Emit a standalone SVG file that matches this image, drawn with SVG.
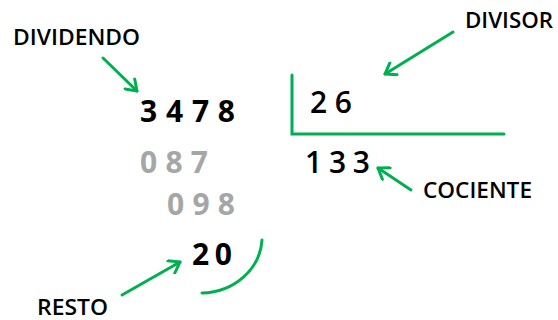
<svg xmlns="http://www.w3.org/2000/svg" width="558" height="320" viewBox="0 0 558 320">
<style>
.lbl{font-family:"Open Sans","Liberation Sans",sans-serif;font-size:21px;font-weight:600;fill:#000}
.num{font-family:"Open Sans","Liberation Sans",sans-serif;font-size:30px;font-weight:bold;fill:#000}
.num2{font-family:"Open Sans","Liberation Sans",sans-serif;font-size:30px;font-weight:600;fill:#000}
.gray{fill:#a6a6a6}
.g{stroke:#00b050;stroke-width:3;fill:none;stroke-linecap:round}
</style>
<defs>
<marker id="ah" markerUnits="userSpaceOnUse" markerWidth="16" markerHeight="16" refX="13" refY="8" orient="auto" viewBox="0 0 16 16">
<path d="M3,1 L13,8 L3,15" fill="none" stroke="#00b050" stroke-width="3" stroke-linecap="round" stroke-linejoin="round"/>
</marker>
</defs>
<rect width="558" height="320" fill="#fff"/>
<g id="dividendo-label"><text class="lbl" x="13" y="45" textLength="127" lengthAdjust="spacingAndGlyphs">DIVIDENDO</text></g>
<g id="divisor-label"><text class="lbl" x="465" y="28" textLength="88" lengthAdjust="spacingAndGlyphs">DIVISOR</text></g>
<g id="cociente-label"><text class="lbl" x="423" y="198" textLength="109" lengthAdjust="spacingAndGlyphs">COCIENTE</text></g>
<g id="resto-label"><text class="lbl" x="37" y="315" font-size="20" textLength="71" lengthAdjust="spacingAndGlyphs">RESTO</text></g>
<g id="dividendo"><text class="num" x="140" y="122" textLength="95" lengthAdjust="spacing">3 4 7 8</text></g>
<g id="step1"><text class="num gray" x="140" y="173" textLength="68" lengthAdjust="spacing">0 8 7</text></g>
<g id="step2"><text class="num gray" x="167" y="215" textLength="68" lengthAdjust="spacing">0 9 8</text></g>
<g id="resto"><text class="num" x="192" y="265" textLength="40" lengthAdjust="spacing">2 0</text></g>
<g id="divisor"><text class="num2" x="310" y="113" textLength="42" lengthAdjust="spacing">2 6</text></g>
<g id="cociente"><text class="num2" x="305" y="173" textLength="65" lengthAdjust="spacing">1 3 3</text></g>
<g id="bracket"><path class="g" d="M292,75 L292,134 L504,134"/></g>
<g id="connectors">
<path class="g" d="M103,58 L137,91" marker-end="url(#ah)"/>
<path class="g" d="M453,32 L385,74" marker-end="url(#ah)"/>
<path class="g" d="M411,190 L378,168" marker-end="url(#ah)"/>
<path class="g" d="M122,295 L180,262" marker-end="url(#ah)"/>
<path class="g" d="M262,240 A62,56 0 0 1 202,293"/>
</g>
</svg>
